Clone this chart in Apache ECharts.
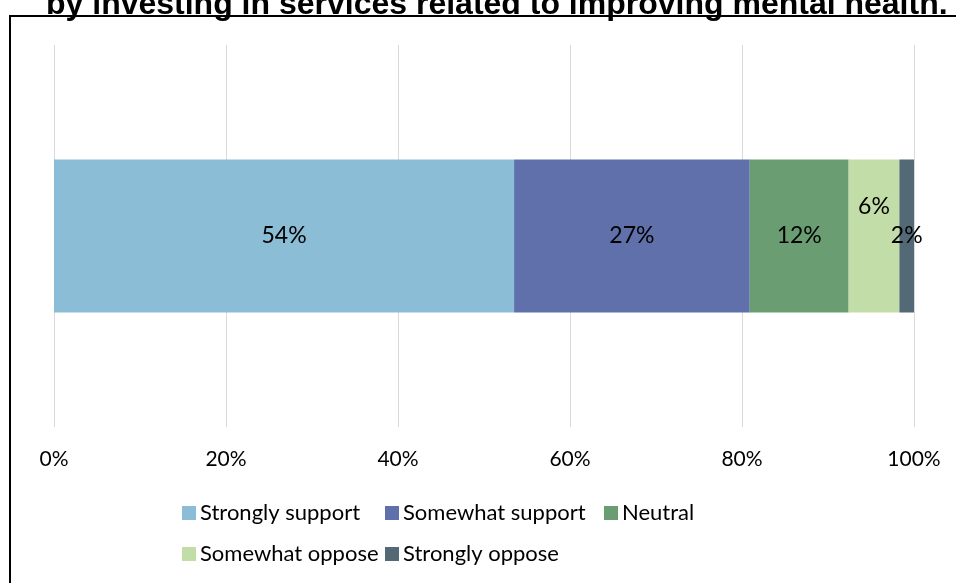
<!DOCTYPE html>
<html><head><meta charset="utf-8">
<script src="https://cdn.jsdelivr.net/npm/echarts@6/dist/echarts.min.js"></script>
<style>html,body{margin:0;padding:0;background:#fff}#c{width:956px;height:583px}</style>
</head><body><div id="c"></div>
<script>
const titleText = "by investing in services related to improving mental health.";
const categories = ["Respondents"];
const seriesNames = ["Strongly support","Somewhat support","Neutral","Somewhat oppose","Strongly oppose"];
const seriesValues = [53.5, 27.4, 11.5, 5.9, 1.7];
const seriesLabels = ["54%","27%","12%","6%","2%"];
const tickValues = [0,20,40,60,80,100];
const colors = ["#8CBDD6","#5F70AA","#6A9E72","#C3DDA9","#536A76"];

const font = "Lato, 'Open Sans', sans-serif";
const chart = echarts.init(document.getElementById('c'));
const series = seriesNames.map((n,i)=>({
  name:n, type:'bar', stack:'total', barWidth:'40%',
  itemStyle:{color:colors[i]},
  label:{show:true, position:'inside', color:'#000', fontFamily:font, fontSize:23,
    offset: i===3 ? [0,-29] : [0,0],
    formatter: ()=>seriesLabels[i]},
  emphasis:{disabled:true},
  data:[seriesValues[i]]
}));
const legendPos = [[182,502],[385,502],[604,502],[182,543],[385,543]];
const legends = seriesNames.map((n,i)=>({
  data:[n], left:legendPos[i][0], top:legendPos[i][1], itemWidth:14, itemHeight:14, itemGap:0,
  icon:'rect', textStyle:{fontFamily:font, fontSize:22, color:'#000', padding:[0,0,0,-1]},
  padding:0, selectedMode:false
}));
chart.setOption({
  animation:false,
  title:{text:titleText, left:41, top:-16, textStyle:{fontFamily:"'Liberation Sans', Arial, sans-serif", fontWeight:'bold', fontSize:32, color:'#000'}},
  grid:{left:54, right:42, top:45, bottom:156, containLabel:false},
  xAxis:{type:'value', min:0, max:100, interval:20,
    axisLine:{show:false}, axisTick:{show:false},
    splitLine:{lineStyle:{color:'#d9d9d9', width:1}},
    axisLabel:{formatter: v=> tickValues.includes(v)? v+'%' : '', fontFamily:font, fontSize:21, color:'#000', margin:22}},
  yAxis:{type:'category', data:categories, show:false},
  legend:legends,
  series:series,
  graphic:[{type:'rect', shape:{x:10,y:16,width:1000,height:700}, style:{fill:'none', stroke:'#000', lineWidth:2}, silent:true}]
});
</script></body></html>
